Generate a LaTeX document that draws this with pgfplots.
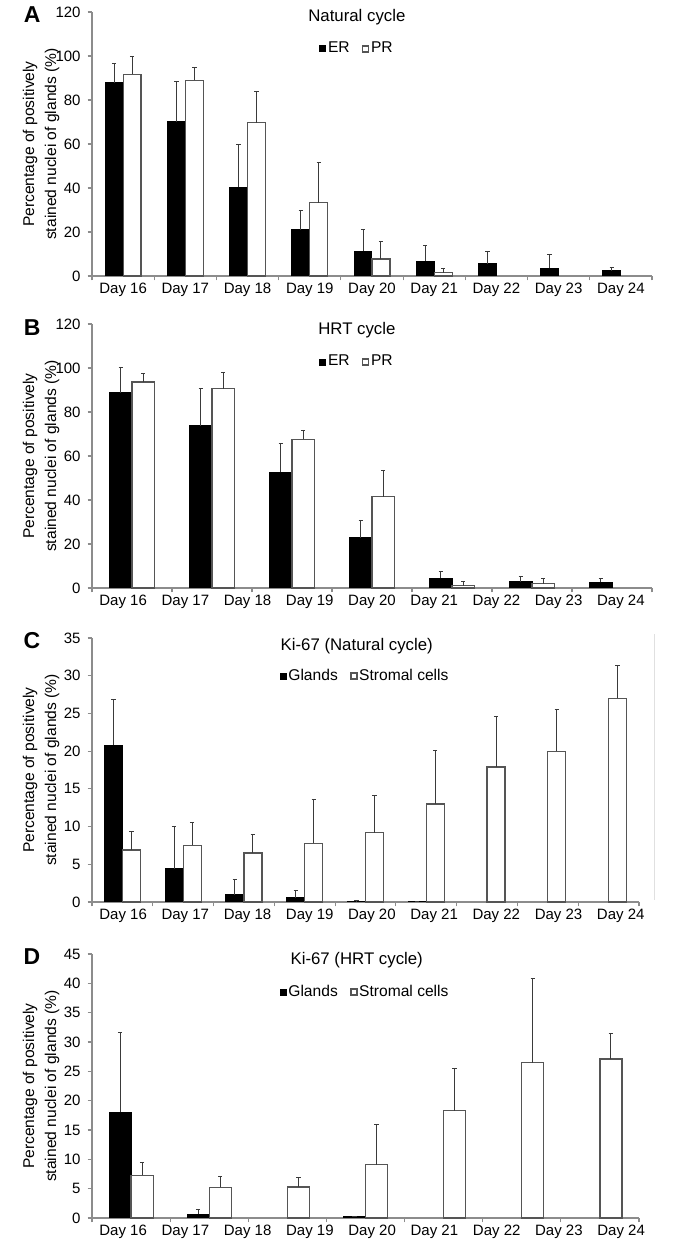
\documentclass[border=0pt]{standalone}
\usepackage{fontspec}
\setmainfont{Liberation Sans}
\usepackage{pgfplots}
\pgfplotsset{compat=1.18}
\definecolor{axgray}{HTML}{8C8C8C}
\definecolor{errc}{HTML}{3A3A3A}
\definecolor{outl}{HTML}{555555}
\newcommand{\daylabels}{Day 16,Day 17,Day 18,Day 19,Day 20,Day 21,Day 22,Day 23,Day 24}
\tikzset{plab/.style={font=\bfseries\fontsize{11.5}{13}\selectfont}}
\pgfplotsset{
  panel/.style={
    scale only axis,
    height=132pt,
    ymin=0,
    ybar,
    clip=false,
    enlarge x limits=false,
    axis lines*=left,
    axis line style={axgray, line width=0.6pt},
    tick style={axgray, line width=0.6pt},
    tick align=outside,
    major tick length=2.2pt,
    xticklabels={},
    extra x tick labels/.expanded={\daylabels},
    extra x tick style={major tick length=0pt},
    tick label style={font=\fontsize{7.5}{9}\selectfont, black},
    /pgf/number format/assume math mode=true,
    ylabel={Percentage of positively\\stained nuclei of glands (\%)},
    legend columns=2,
    legend style={draw=none, fill=none, font=\fontsize{7.8}{9}\selectfont,
      anchor=center, nodes={inner xsep=0.8pt, inner ysep=0.5pt},
      /tikz/every even column/.append style={column sep=5.5pt}},
    legend image code/.code={\draw[#1, solid] (0pt,-1.5pt) rectangle (3pt,1.5pt);},
    error bars/y dir=plus,
    error bars/y explicit,
    error bars/error bar style={errc, line width=0.5pt},
    error bars/error mark options={errc, rotate=90, mark size=1.1pt, line width=0.5pt},
  },
  ylab/.style={every axis y label/.style={at={(axis description cs:#1,0.5)}, rotate=90,
      anchor=center, align=center, font=\fontsize{7.8}{11}\selectfont}},
  blk/.style={fill=black, draw=black, line width=0.5pt},
  wht/.style={fill=white, draw=outl, line width=0.6pt},
}
\begin{document}
\begin{tikzpicture}[x=1pt,y=1pt]
\useasboundingbox (0,0) rectangle (339.5,620);

% ---------------- A ----------------
\begin{axis}[panel, at={(46pt,482pt)}, anchor=south west, width=280pt,
  xmin=0, xmax=9, ymax=120, ytick={0,20,40,60,80,100,120},
  xtick={0,1,2,3,4,5,6,7,8,9},
  extra x ticks={0.5,1.5,2.5,3.5,4.5,5.5,6.5,7.5,8.5},
  bar width=0.289,
  ylab=-0.091,
  legend style={at={(axis description cs:0.473,0.860)}},
  legend entries={ER,PR}]
\addplot[blk, bar shift=-0.1445] coordinates {
 (0.5,87.8) +- (0,8.7) (1.5,70.1) +- (0,18.3) (2.5,40.3) +- (0,19.5)
 (3.5,21.0) +- (0,8.8) (4.5,11.3) +- (0,9.9) (5.5,6.7) +- (0,7.2)
 (6.5,5.6) +- (0,5.6) (7.5,3.5) +- (0,6.3) (8.5,2.3) +- (0,1.6)};
\addplot[wht, bar shift=0.1445] coordinates {
 (0.5,91.7) +- (0,7.9) (1.5,89.0) +- (0,5.7) (2.5,69.6) +- (0,14.4)
 (3.5,33.3) +- (0,18.5) (4.5,7.7) +- (0,7.9) (5.5,1.5) +- (0,2.0)};
\node[font=\fontsize{8.4}{10}\selectfont] at (axis description cs:0.473,0.981) {Natural cycle};
\node[plab] at (axis description cs:-0.107,0.99) {A};
\end{axis}

% ---------------- B ----------------
\begin{axis}[panel, at={(46pt,326pt)}, anchor=south west, width=280pt,
  xmin=0, xmax=7, ymax=120, ytick={0,20,40,60,80,100,120},
  xtick={0,1,2,3,4,5,6,7},
  extra x ticks={0.389,1.167,1.944,2.722,3.5,4.278,5.056,5.833,6.611},
  bar width=0.281,
  ylab=-0.091,
  legend style={at={(axis description cs:0.473,0.856)}},
  legend entries={ER,PR}]
\addplot[blk, bar shift=-0.1405] coordinates {
 (0.5,88.7) +- (0,11.4) (1.5,73.7) +- (0,17.1) (2.5,52.6) +- (0,12.9)
 (3.5,22.8) +- (0,8.0) (4.5,4.4) +- (0,3.3) (5.5,2.9) +- (0,2.1) (6.5,2.6) +- (0,1.7)};
\addplot[wht, bar shift=0.1405] coordinates {
 (0.5,93.6) +- (0,4.1) (1.5,90.5) +- (0,7.5) (2.5,67.6) +- (0,3.9)
 (3.5,41.5) +- (0,12.1) (4.5,1.1) +- (0,1.9) (5.5,2.0) +- (0,2.4)};
\node[font=\fontsize{8.4}{10}\selectfont] at (axis description cs:0.473,0.977) {HRT cycle};
\node[plab] at (axis description cs:-0.107,0.986) {B};
\end{axis}

% ---------------- C ----------------
\begin{axis}[panel, at={(46pt,169pt)}, anchor=south west, width=273.5pt,
  xmin=0, xmax=9, ymax=35, ytick={0,5,10,15,20,25,30,35},
  xtick={0,1,2,3,4,5,6,7,8,9},
  extra x ticks={0.512,1.535,2.559,3.582,4.605,5.629,6.652,7.676,8.699},
  bar width=0.296,
  ylab=-0.093,
  legend style={at={(axis description cs:0.499,0.856)}},
  legend entries={Glands,Stromal cells}]
\addplot[blk, bar shift=-0.148] coordinates {
 (0.5,20.8) +- (0,6.1) (1.5,4.4) +- (0,5.6) (2.5,0.93) +- (0,2.0)
 (3.5,0.53) +- (0,1.0) (4.5,0.06) +- (0,0.1) (5.5,0.05) +- (0,0.05)};
\addplot[wht, bar shift=0.148] coordinates {
 (0.5,6.9) +- (0,2.5) (1.5,7.5) +- (0,3.1) (2.5,6.5) +- (0,2.4)
 (3.5,7.8) +- (0,5.8) (4.5,9.2) +- (0,4.9) (5.5,13.0) +- (0,7.1)
 (6.5,17.9) +- (0,6.7) (7.5,20.0) +- (0,5.5) (8.5,27.0) +- (0,4.4)};
\node[font=\fontsize{8.4}{10}\selectfont] at (axis description cs:0.484,0.970) {Ki-67 (Natural cycle)};
\node[plab] at (axis description cs:-0.110,0.99) {C};
\draw[black!12, line width=0.5pt] (rel axis cs:1.029,0.008) -- (rel axis cs:1.029,1.015);
\end{axis}

% ---------------- D ----------------
\begin{axis}[panel, at={(46pt,11pt)}, anchor=south west, width=273.5pt,
  xmin=0, xmax=7, ymax=45, ytick={0,5,10,15,20,25,30,35,40,45},
  xtick={0,1,2,3,4,5,6,7},
  extra x ticks={0.398,1.195,1.992,2.788,3.585,4.382,5.179,5.975,6.772},
  bar width=0.282,
  ylab=-0.093,
  legend style={at={(axis description cs:0.499,0.856)}},
  legend entries={Glands,Stromal cells}]
\addplot[blk, bar shift=-0.141] coordinates {
 (0.5,18.0) +- (0,13.6) (1.5,0.68) +- (0,0.7) (3.5,0.2) +- (0,0.1)};
\addplot[wht, bar shift=0.141] coordinates {
 (0.5,7.3) +- (0,2.1) (1.5,5.2) +- (0,1.85) (2.5,5.3) +- (0,1.6)
 (3.5,9.1) +- (0,6.8) (4.5,18.3) +- (0,7.1) (5.5,26.5) +- (0,14.3) (6.5,27.1) +- (0,4.4)};
\node[font=\fontsize{8.4}{10}\selectfont] at (axis description cs:0.484,0.977) {Ki-67 (HRT cycle)};
\node[plab] at (axis description cs:-0.110,0.99) {D};
\end{axis}
\end{tikzpicture}
\end{document}
